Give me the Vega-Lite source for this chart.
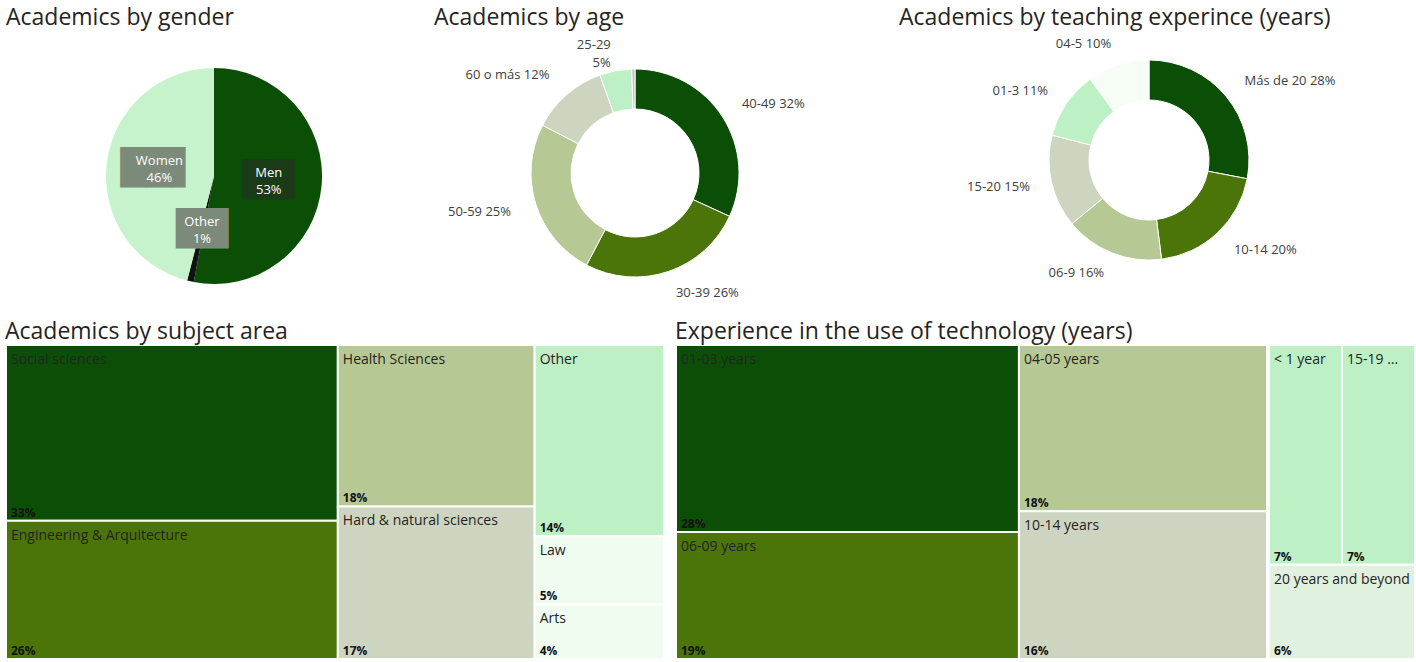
{
  "$schema": "https://vega.github.io/schema/vega-lite/v6.json",
  "background": "white",
  "padding": {"left": 5, "top": 7, "right": 0, "bottom": 0},
  "autosize": {"type": "pad"},
  "config": {
    "view": {"stroke": null},
    "title": {"font": "Open Sans", "fontSize": 23, "fontWeight": "normal", "color": "#252423", "anchor": "start", "offset": 1},
    "text": {"font": "Open Sans"}
  },
  "resolve": {"scale": {"color": "independent", "theta": "independent"}},
  "datasets": {
    "gender": [
      {"gender": "Men", "share": 0.53},
      {"gender": "Other", "share": 0.01},
      {"gender": "Women", "share": 0.46}
    ],
    "age": [
      {"age": "40-49", "share": 0.32, "label": "40-49 32%"},
      {"age": "30-39", "share": 0.26, "label": "30-39 26%"},
      {"age": "50-59", "share": 0.25, "label": "50-59 25%"},
      {"age": "60 o más", "share": 0.12, "label": "60 o más 12%"},
      {"age": "25-29", "share": 0.05, "label": "25-29\n5%"},
      {"age": "<25", "share": 0.005, "label": ""}
    ],
    "teaching": [
      {"exp": "Más de 20", "share": 0.28, "label": "Más de 20 28%"},
      {"exp": "10-14", "share": 0.20, "label": "10-14 20%"},
      {"exp": "06-9", "share": 0.16, "label": "06-9 16%"},
      {"exp": "15-20", "share": 0.15, "label": "15-20 15%"},
      {"exp": "01-3", "share": 0.11, "label": "01-3 11%"},
      {"exp": "04-5", "share": 0.10, "label": "04-5 10%"}
    ],
    "subject": [
      {"area": "Social sciences", "share": 0.33, "col": 1},
      {"area": "Engineering & Arquitecture", "share": 0.26, "col": 1},
      {"area": "Health Sciences", "share": 0.18, "col": 2},
      {"area": "Hard & natural sciences", "share": 0.17, "col": 2},
      {"area": "Other", "share": 0.14, "col": 3},
      {"area": "Law", "share": 0.05, "col": 3},
      {"area": "Arts", "share": 0.04, "col": 3}
    ],
    "tech": [
      {"years": "01-03 years", "share": 0.28, "col": 1, "band": 1},
      {"years": "06-09 years", "share": 0.19, "col": 1, "band": 1},
      {"years": "04-05 years", "share": 0.18, "col": 2, "band": 1},
      {"years": "10-14 years", "share": 0.16, "col": 2, "band": 1},
      {"years": "< 1 year", "share": 0.07, "col": 3, "band": 1},
      {"years": "15-19 years", "share": 0.07, "col": 3, "band": 1},
      {"years": "20 years and beyond", "share": 0.06, "col": 3, "band": 2}
    ]
  },
  "vconcat": [
    {
      "resolve": {"scale": {"color": "independent", "theta": "independent"}},
      "hconcat": [
        {
          "resolve": {"scale": {"color": "independent", "theta": "independent"}},
          "hconcat": [
            {
              "title": "Academics by gender",
              "width": 416, "height": 290,
              "data": {"name": "gender"},
              "encoding": {
                "theta": {"field": "share", "type": "quantitative", "stack": true},
                "order": {"field": "gender", "type": "nominal", "sort": "ascending"}
              },
              "layer": [
                {
                  "mark": {"type": "arc", "radius": 108},
                  "encoding": {
                    "color": {"field": "gender", "type": "nominal", "legend": null,
                      "scale": {"domain": ["Men", "Other", "Women"], "range": ["#0b4f06", "#111111", "#c6f3cb"]}}
                  }
                },
                {
                  "mark": {"type": "text", "radius": 55, "font": "DejaVu Sans", "fontSize": 34, "baseline": "middle", "align": "center"},
                  "encoding": {
                    "detail": {"field": "gender", "type": "nominal"},
                    "text": {"condition": {"test": "datum.gender === 'Women'", "value": "██▌"}, "value": "██"},
                    "color": {"condition": {"test": "datum.gender === 'Men'", "value": "#1b3a17"}, "value": "#7c8a7a"}
                  }
                },
                {
                  "mark": {"type": "text", "radius": 55, "dy": -8, "fontSize": 13, "color": "white"},
                  "encoding": {
                    "detail": {"field": "gender", "type": "nominal"},
                    "text": {"field": "gender", "type": "nominal"}
                  }
                },
                {
                  "mark": {"type": "text", "radius": 55, "dy": 9, "fontSize": 13, "color": "white"},
                  "encoding": {
                    "detail": {"field": "gender", "type": "nominal"},
                    "text": {"field": "share", "type": "quantitative", "format": ".0%"}
                  }
                }
              ]
            },
            {
              "title": "Academics by age",
              "width": 402, "height": 284,
              "data": {"name": "age"},
              "encoding": {
                "theta": {"field": "share", "type": "quantitative", "stack": true},
                "order": {"field": "share", "type": "quantitative", "sort": "descending"},
                "detail": {"field": "age", "type": "nominal"}
              },
              "layer": [
                {
                  "mark": {"type": "arc", "radius": 104, "innerRadius": 64, "stroke": "white", "strokeWidth": 1},
                  "encoding": {
                    "color": {"field": "age", "type": "nominal", "legend": null,
                      "scale": {"domain": ["40-49", "30-39", "50-59", "60 o más", "25-29", "<25"],
                                "range": ["#0b4f06", "#4b7409", "#b6c995", "#cdd5c1", "#bdf0c4", "#c4c4c4"]}}
                  }
                },
                {
                  "mark": {"type": "text", "radius": 127, "align": "left", "baseline": "middle", "fontSize": 13, "color": "#404040", "lineBreak": "\n"},
                  "encoding": {
                    "text": {"condition": {"test": "indexof(['40-49','30-39'], datum.age) >= 0", "field": "label", "type": "nominal"}, "value": ""}
                  }
                },
                {
                  "mark": {"type": "text", "radius": 130, "align": "right", "baseline": "middle", "fontSize": 13, "color": "#404040", "lineBreak": "\n", "lineHeight": 18},
                  "encoding": {
                    "text": {"condition": {"test": "indexof(['50-59','60 o más','25-29'], datum.age) >= 0", "field": "label", "type": "nominal"}, "value": ""}
                  }
                }
              ]
            }
          ],
          "spacing": 12
        },
        {
          "title": "Academics by teaching experince (years)",
          "width": 500, "height": 258,
          "data": {"name": "teaching"},
          "encoding": {
            "theta": {"field": "share", "type": "quantitative", "stack": true},
            "order": {"field": "share", "type": "quantitative", "sort": "descending"},
            "detail": {"field": "exp", "type": "nominal"}
          },
          "layer": [
            {
              "mark": {"type": "arc", "radius": 100, "innerRadius": 60, "stroke": "white", "strokeWidth": 1},
              "encoding": {
                "color": {"field": "exp", "type": "nominal", "legend": null,
                  "scale": {"domain": ["Más de 20", "10-14", "06-9", "15-20", "01-3", "04-5"],
                            "range": ["#0b4f06", "#4b7409", "#b6c995", "#cdd5c1", "#bdf0c4", "#f5fdf5"]}}
              }
            },
            {
              "mark": {"type": "text", "radius": 124, "align": "left", "baseline": "middle", "fontSize": 13, "color": "#404040"},
              "encoding": {
                "text": {"condition": {"test": "indexof(['Más de 20','10-14'], datum.exp) >= 0", "field": "label", "type": "nominal"}, "value": ""}
              }
            },
            {
              "mark": {"type": "text", "radius": 122, "align": "right", "baseline": "middle", "fontSize": 13, "color": "#404040"},
              "encoding": {
                "text": {"condition": {"test": "indexof(['06-9','15-20','01-3','04-5'], datum.exp) >= 0", "field": "label", "type": "nominal"}, "value": ""}
              }
            }
          ]
        }
      ],
      "spacing": 63
    },
    {
      "resolve": {"scale": {"color": "independent"}},
      "hconcat": [
        {
          "title": {"text": "Academics by subject area", "offset": 0},
          "width": 658, "height": 314,
          "data": {"name": "subject"},
          "transform": [
            {"stack": "share", "groupby": [], "sort": [{"field": "col", "order": "ascending"}, {"field": "share", "order": "descending"}], "offset": "normalize", "as": ["g0", "g1"]},
            {"joinaggregate": [{"op": "min", "field": "g0", "as": "x0"}, {"op": "max", "field": "g1", "as": "x1"}], "groupby": ["col"]},
            {"stack": "share", "groupby": ["col"], "sort": [{"field": "share", "order": "descending"}], "offset": "normalize", "as": ["y0", "y1"]}
          ],
          "encoding": {
            "x": {"field": "x0", "type": "quantitative", "scale": {"domain": [0, 1], "nice": false, "zero": false}, "axis": null},
            "y": {"field": "y0", "type": "quantitative", "scale": {"domain": [0, 1], "nice": false, "zero": false, "reverse": true}, "axis": null}
          },
          "layer": [
            {
              "mark": {"type": "rect", "stroke": "white", "strokeWidth": 2},
              "encoding": {
                "x2": {"field": "x1"},
                "y2": {"field": "y1"},
                "color": {"field": "area", "type": "nominal", "legend": null,
                  "scale": {"domain": ["Social sciences", "Engineering & Arquitecture", "Health Sciences", "Hard & natural sciences", "Other", "Law", "Arts"],
                            "range": ["#0b4f06", "#4b7409", "#b6c995", "#cdd5c1", "#bdf0c4", "#f1fcf1", "#f1fcf1"]}}
              }
            },
            {
              "mark": {"type": "text", "align": "left", "baseline": "top", "dx": 5, "dy": 8, "fontSize": 14, "color": "#252423"},
              "encoding": {"text": {"field": "area", "type": "nominal"}}
            },
            {
              "mark": {"type": "text", "align": "left", "baseline": "bottom", "dx": 5, "dy": -1, "fontSize": 12, "fontWeight": "bold", "color": "#111111"},
              "encoding": {
                "y": {"field": "y1", "type": "quantitative"},
                "text": {"field": "share", "type": "quantitative", "format": ".0%"}
              }
            }
          ]
        },
        {
          "title": {"text": "Experience in the use of technology (years)", "offset": 0},
          "resolve": {"scale": {"color": "independent"}},
          "hconcat": [
            {
              "width": 591, "height": 314,
              "data": {"name": "tech"},
              "transform": [
                {"filter": "datum.col <= 2"},
                {"stack": "share", "groupby": [], "sort": [{"field": "col", "order": "ascending"}, {"field": "share", "order": "descending"}], "offset": "normalize", "as": ["g0", "g1"]},
                {"joinaggregate": [{"op": "min", "field": "g0", "as": "x0"}, {"op": "max", "field": "g1", "as": "x1"}], "groupby": ["col"]},
                {"stack": "share", "groupby": ["col"], "sort": [{"field": "share", "order": "descending"}], "offset": "normalize", "as": ["y0", "y1"]}
              ],
              "encoding": {
                "x": {"field": "x0", "type": "quantitative", "scale": {"domain": [0, 1], "nice": false, "zero": false}, "axis": null},
                "y": {"field": "y0", "type": "quantitative", "scale": {"domain": [0, 1], "nice": false, "zero": false, "reverse": true}, "axis": null}
              },
              "layer": [
                {
                  "mark": {"type": "rect", "stroke": "white", "strokeWidth": 2},
                  "encoding": {
                    "x2": {"field": "x1"},
                    "y2": {"field": "y1"},
                    "color": {"field": "years", "type": "nominal", "legend": null,
                      "scale": {"domain": ["01-03 years", "06-09 years", "04-05 years", "10-14 years"],
                                "range": ["#0b4f06", "#4b7409", "#b6c995", "#cdd5c1"]}}
                  }
                },
                {
                  "mark": {"type": "text", "align": "left", "baseline": "top", "dx": 5, "dy": 8, "fontSize": 14, "color": "#252423"},
                  "encoding": {"text": {"field": "years", "type": "nominal"}}
                },
                {
                  "mark": {"type": "text", "align": "left", "baseline": "bottom", "dx": 5, "dy": -1, "fontSize": 12, "fontWeight": "bold", "color": "#111111"},
                  "encoding": {
                    "y": {"field": "y1", "type": "quantitative"},
                    "text": {"field": "share", "type": "quantitative", "format": ".0%"}
                  }
                }
              ]
            },
            {
              "width": 146, "height": 314,
              "data": {"name": "tech"},
              "transform": [
                {"filter": "datum.col === 3"},
                {"stack": "share", "groupby": [], "sort": [{"field": "band", "order": "ascending"}, {"field": "years", "order": "descending"}], "offset": "normalize", "as": ["g0", "g1"]},
                {"joinaggregate": [{"op": "min", "field": "g0", "as": "y0"}, {"op": "max", "field": "g1", "as": "y1"}], "groupby": ["band"]},
                {"stack": "share", "groupby": ["band"], "sort": [{"field": "years", "order": "descending"}], "offset": "normalize", "as": ["x0", "x1"]}
              ],
              "encoding": {
                "x": {"field": "x0", "type": "quantitative", "scale": {"domain": [0, 1], "nice": false, "zero": false}, "axis": null},
                "y": {"field": "y0", "type": "quantitative", "scale": {"domain": [0, 1], "nice": false, "zero": false, "reverse": true}, "axis": null}
              },
              "layer": [
                {
                  "mark": {"type": "rect", "stroke": "white", "strokeWidth": 2},
                  "encoding": {
                    "x2": {"field": "x1"},
                    "y2": {"field": "y1"},
                    "color": {"field": "years", "type": "nominal", "legend": null,
                      "scale": {"domain": ["< 1 year", "15-19 years", "20 years and beyond"],
                                "range": ["#bdf0c4", "#bdf0c4", "#e0f1e0"]}}
                  }
                },
                {
                  "transform": [{"filter": "datum.band === 1"}],
                  "mark": {"type": "text", "align": "left", "baseline": "top", "dx": 5, "dy": 8, "fontSize": 14, "color": "#252423", "limit": 58, "ellipsis": "..."},
                  "encoding": {"text": {"field": "years", "type": "nominal"}}
                },
                {
                  "transform": [{"filter": "datum.band === 2"}],
                  "mark": {"type": "text", "align": "left", "baseline": "top", "dx": 5, "dy": 8, "fontSize": 14, "color": "#252423"},
                  "encoding": {"text": {"field": "years", "type": "nominal"}}
                },
                {
                  "mark": {"type": "text", "align": "left", "baseline": "bottom", "dx": 5, "dy": -1, "fontSize": 12, "fontWeight": "bold", "color": "#111111"},
                  "encoding": {
                    "y": {"field": "y1", "type": "quantitative"},
                    "text": {"field": "share", "type": "quantitative", "format": ".0%"}
                  }
                }
              ]
            }
          ],
          "spacing": 0
        }
      ],
      "spacing": 10
    }
  ],
  "spacing": 0
}
